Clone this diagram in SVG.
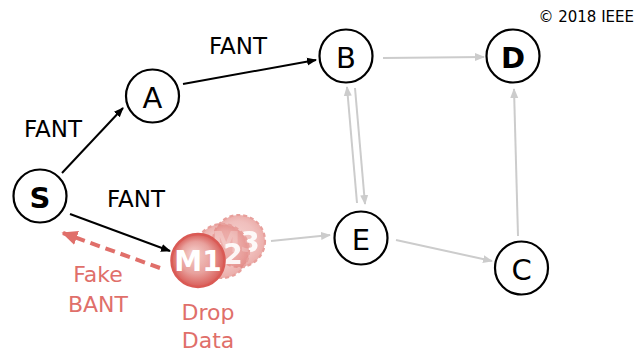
<svg xmlns="http://www.w3.org/2000/svg" width="637" height="354" viewBox="0 0 637 354">
  <style>
    .node { fill: #fff; stroke: #000; stroke-width: 2.2; }
    .lbl { font-family: "DejaVu Sans", sans-serif; font-size: 29px; text-anchor: middle; dominant-baseline: central; }
    .bold { font-weight: bold; }
    .elbl { font-family: "DejaVu Sans", sans-serif; font-size: 23px; text-anchor: middle; fill: #000; }
    .red { fill: #e06f6a; font-size: 22px; }
    .blk { stroke: #000; stroke-width: 2; fill: none; marker-end: url(#ab); }
    .gry { stroke: #cccccc; stroke-width: 2; fill: none; marker-end: url(#ag); }
    .ghost { fill: url(#gg); fill-opacity: 0.6; stroke: #e8a09c; stroke-width: 2.2; stroke-dasharray: 4 3; }
    .mtxt { font-family: "DejaVu Sans", sans-serif; font-size: 28px; font-weight: bold; fill: #fff; text-anchor: middle; dominant-baseline: central; }
  </style>
  <defs>
    <marker id="ab" viewBox="0 0 10 10" refX="9" refY="5" markerWidth="5" markerHeight="5" orient="auto" markerUnits="strokeWidth">
      <path d="M0,1 L10,5 L0,9 z" fill="#000"/>
    </marker>
    <marker id="ag" viewBox="0 0 10 10" refX="9" refY="5" markerWidth="5" markerHeight="5" orient="auto" markerUnits="strokeWidth">
      <path d="M0,1 L10,5 L0,9 z" fill="#cccccc"/>
    </marker>
    <marker id="ar" viewBox="0 0 10 10" refX="9" refY="5" markerWidth="4" markerHeight="4" orient="auto" markerUnits="strokeWidth">
      <path d="M0,0.5 L10,5 L0,9.5 z" fill="#e06f6a"/>
    </marker>
    <radialGradient id="mg" cx="0.5" cy="0.5" r="0.5" fx="0.4" fy="0.36">
      <stop offset="0" stop-color="#f5d0cd"/>
      <stop offset="0.6" stop-color="#e8a19d"/>
      <stop offset="1" stop-color="#d95d58"/>
    </radialGradient>
    <radialGradient id="gg" cx="0.5" cy="0.5" r="0.5" fx="0.42" fy="0.4">
      <stop offset="0" stop-color="#eeaeaa"/>
      <stop offset="0.7" stop-color="#e69490"/>
      <stop offset="1" stop-color="#de7772"/>
    </radialGradient>
    <filter id="soft" x="-20%" y="-20%" width="140%" height="140%">
      <feGaussianBlur stdDeviation="0.5"/>
    </filter>
  </defs>

  <text x="634" y="22" font-family="DejaVu Sans, sans-serif" font-size="15" text-anchor="end">© 2018 IEEE</text>

  <g id="connectors">
    <line class="blk" x1="62" y1="173" x2="123" y2="108"/>
    <line class="blk" x1="183" y1="84" x2="316" y2="60"/>
    <line class="blk" x1="70" y1="214" x2="170" y2="251"/>
    <line x1="160" y1="268" x2="63" y2="233" stroke="#e06f6a" stroke-width="4" stroke-dasharray="10 6" marker-end="url(#ar)"/>
    <line class="gry" x1="383" y1="58" x2="484" y2="57"/>
    <line class="gry" x1="357" y1="203" x2="347" y2="87"/>
    <line class="gry" x1="355" y1="88" x2="365" y2="204"/>
    <line class="gry" x1="396" y1="240" x2="492" y2="261"/>
    <line class="gry" x1="518" y1="236" x2="514" y2="89"/>
    <line class="gry" x1="271" y1="241" x2="330" y2="235"/>
  </g>

  <g id="edge-labels">
    <text class="elbl" x="238" y="54">FANT</text>
    <text class="elbl" x="53" y="137">FANT</text>
    <text class="elbl" x="136" y="207">FANT</text>
    <text class="elbl red" x="98" y="282">Fake</text>
    <text class="elbl red" x="98" y="312">BANT</text>
    <text class="elbl red" x="208" y="320">Drop</text>
    <text class="elbl red" x="208" y="348">Data</text>
  </g>

  <g id="node-S"><circle class="node" cx="40" cy="196" r="26.5"/><text class="lbl bold" x="40" y="198">S</text></g>
  <g id="node-A"><circle class="node" cx="152.5" cy="96" r="26.5"/><text class="lbl" x="152.5" y="98">A</text></g>
  <g id="node-B"><circle class="node" cx="346" cy="56" r="26.5"/><text class="lbl" x="346" y="58">B</text></g>
  <g id="node-D"><circle class="node" cx="513" cy="56" r="26.5"/><text class="lbl bold" x="513" y="58">D</text></g>
  <g id="node-E"><circle class="node" cx="361" cy="238" r="26.5"/><text class="lbl" x="361" y="240">E</text></g>
  <g id="node-C"><circle class="node" cx="521.5" cy="268" r="26.5"/><text class="lbl" x="521.5" y="270">C</text></g>

  <g id="node-M3" filter="url(#soft)"><circle class="ghost" cx="239" cy="241" r="26"/><text class="mtxt" x="236" y="242" opacity="0.9">M3</text></g>
  <g id="node-M2" filter="url(#soft)"><circle class="ghost" cx="222" cy="251" r="27"/><text class="mtxt" x="219" y="254" opacity="0.9">M2</text></g>
  <g id="node-M1"><circle cx="198" cy="260.5" r="26.5" fill="url(#mg)" stroke="#da5a55" stroke-width="2.5"/><text class="mtxt" x="198" y="261">M1</text></g>
</svg>
